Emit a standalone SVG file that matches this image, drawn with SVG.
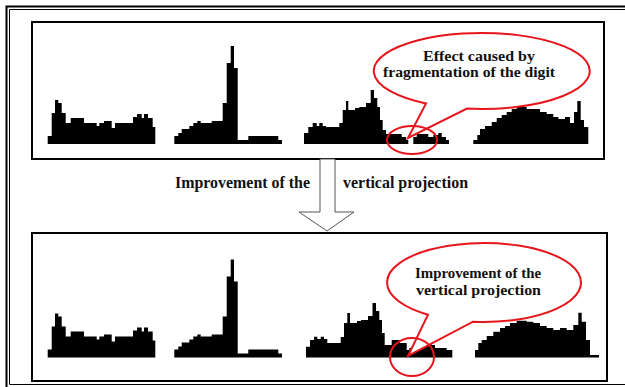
<svg xmlns="http://www.w3.org/2000/svg" width="625" height="387" viewBox="0 0 625 387">
<style>
.box{fill:#fff;stroke:#000;stroke-width:2}
.h{fill:#000;stroke:none}
.call{fill:#fff;stroke:#e8141c;stroke-width:2}
.ring{fill:none;stroke:#e8141c;stroke-width:2}
.t{font-family:"Liberation Serif","Times New Roman",serif;font-weight:bold;font-size:16px;fill:#111}
.s{font-size:14px}
.m{font-size:15px}
</style>
<rect width="625" height="387" fill="#fff"/>
<g id="frame" fill="none" stroke="#000">
<path d="M6.5,387 V6.5 H625" stroke-width="2"/>
<path d="M9.5,384.5 V9.5 H625 M9.5,384.5 H625" stroke-width="1"/>
</g>
<g id="panel-before">
<rect class="box" x="32" y="22" width="572" height="137"/>
<path class="h" d="M47.7,144 V136 H51.7 V113 H55 V100 H58.3 V103 H61.7 V113 H65.7 V123 H70.7 V118 H84 V123 H96.7 V126 H99.3 V123 H104 V121 H111.7 V128 H115 V123 H133 V117 H137 V114 H141.7 V118 H144 V114 H148 V118 H152.7 V127 H155.3 V144 Z"/>
<path class="h" d="M174.3,144 V136 H178.3 V133 H181.7 V129 H189.3 V126 H193.3 V123 H197.3 V121 H200.7 V123 H211.7 V121 H222.7 V103 H226.7 V63 H230.7 V46 H234 V68 H237.7 V140 H248.3 V136 H278.3 V140 H282 V144 Z"/>
<path class="h" d="M304,144 V133 H308.3 V127 H312.7 V123 H316.7 V126 H319.3 V123 H322.7 V126 H326 V127 H339.3 V123 H342.7 V110 H346 V101 H348.3 V110 H355 V108 H359.3 V107 H366 V103 H370.7 V90 H374 V98 H377.3 V107 H380 V120 H382.7 V130 H386 V134 H401.7 V137 H406 V140 H408.3 V144 Z M413.3,144 V137 H416.7 V134 H428.3 V137 H433.3 V135 H438.3 V133 H441.7 V137 H446 V140 H449 V144 Z"/>
<path class="h" d="M473.3,144 V140 H477.3 V135 H480 V129 H485 V126 H491.7 V122 H496.7 V118 H501.7 V115 H506.7 V112 H511.7 V109 H516.7 V107 H526.7 V109 H540 V112 H546.7 V114 H553.3 V117 H558.3 V119 H565 V117 H570 V123 H574 V112 H577.3 V101 H580.7 V120 H584 V127 H588.3 V144 Z"/>
</g>
<g id="callout-fragmentation">
<path class="call" d="M426,103.5 A108,38 0 1 1 467,108.6 L408,138 Z"/>
<ellipse class="ring" cx="412" cy="140" rx="25" ry="14"/>
<text class="t s" x="479" y="61" text-anchor="middle" textLength="112" lengthAdjust="spacingAndGlyphs">Effect caused by</text>
<text class="t s" x="469" y="77" text-anchor="middle" textLength="172" lengthAdjust="spacingAndGlyphs">fragmentation of the digit</text>
</g>
<g id="panel-after">
<rect class="box" x="32" y="233" width="575" height="148"/>
<g transform="translate(0,213.5)">
<path class="h" d="M47.7,144 V136 H51.7 V113 H55 V100 H58.3 V103 H61.7 V113 H65.7 V123 H70.7 V118 H84 V123 H96.7 V126 H99.3 V123 H104 V121 H111.7 V128 H115 V123 H133 V117 H137 V114 H141.7 V118 H144 V114 H148 V118 H152.7 V127 H155.3 V144 Z"/>
<path class="h" d="M174.3,144 V136 H178.3 V133 H181.7 V129 H189.3 V126 H193.3 V123 H197.3 V121 H200.7 V123 H211.7 V121 H222.7 V103 H226.7 V63 H230.7 V46 H234 V68 H237.7 V140 H248.3 V136 H278.3 V140 H282 V144 Z"/>
</g>
<path class="h" d="M306,357.5 V346.7 H310 V340 H314 V336.7 H317.3 V339 H320.7 V336.7 H324 V339 H327.3 V343 H340.7 V337 H344 V323 H347.3 V313 H350 V323 H357 V321 H361 V320 H368 V316 H372.5 V303 H376 V311 H379.3 V320 H382 V333 H384.7 V345 H391.7 V340 H400 V343 H406.7 V350 H409.3 V348 H413.3 V345 H420 V341.7 H431.7 V345 H435 V348 H446.7 V350 H452.3 V357.5 Z"/>
<path class="h" d="M475,357.5 V350 H478.3 V343 H481.7 V340 H486.7 V336 H493.3 V331.7 H500 V328 H505 V326 H510 V323 H516.7 V320.7 H526.7 V321.7 H533.3 V323 H540 V326 H546.7 V328 H553.3 V330 H560 V328 H566.7 V330 H573.3 V325 H578.3 V312.7 H581.7 V321.7 H586 V340 H590 V355 H599 V357.5 Z"/>
</g>
<g id="callout-improvement">
<path class="call" d="M428,314.7 A97,39.5 0 1 1 473,321.7 L408,356 Z"/>
<ellipse class="ring" cx="412" cy="357" rx="22" ry="19"/>
<text class="t m" x="478" y="278" text-anchor="middle" textLength="126" lengthAdjust="spacingAndGlyphs">Improvement of the</text>
<text class="t m" x="478.5" y="295" text-anchor="middle" textLength="125" lengthAdjust="spacingAndGlyphs">vertical projection</text>
</g>
<g id="connectors">
<polygon points="320,159 320,212 299,212 327,231 354,212 335,212 335,159" fill="#fff" stroke="#555" stroke-width="1"/>
</g>
<g id="arrow-label">
<text class="t" x="175" y="188" textLength="135" lengthAdjust="spacingAndGlyphs">Improvement of the</text>
<text class="t" x="343" y="188" textLength="125" lengthAdjust="spacingAndGlyphs">vertical projection</text>
</g>
</svg>
